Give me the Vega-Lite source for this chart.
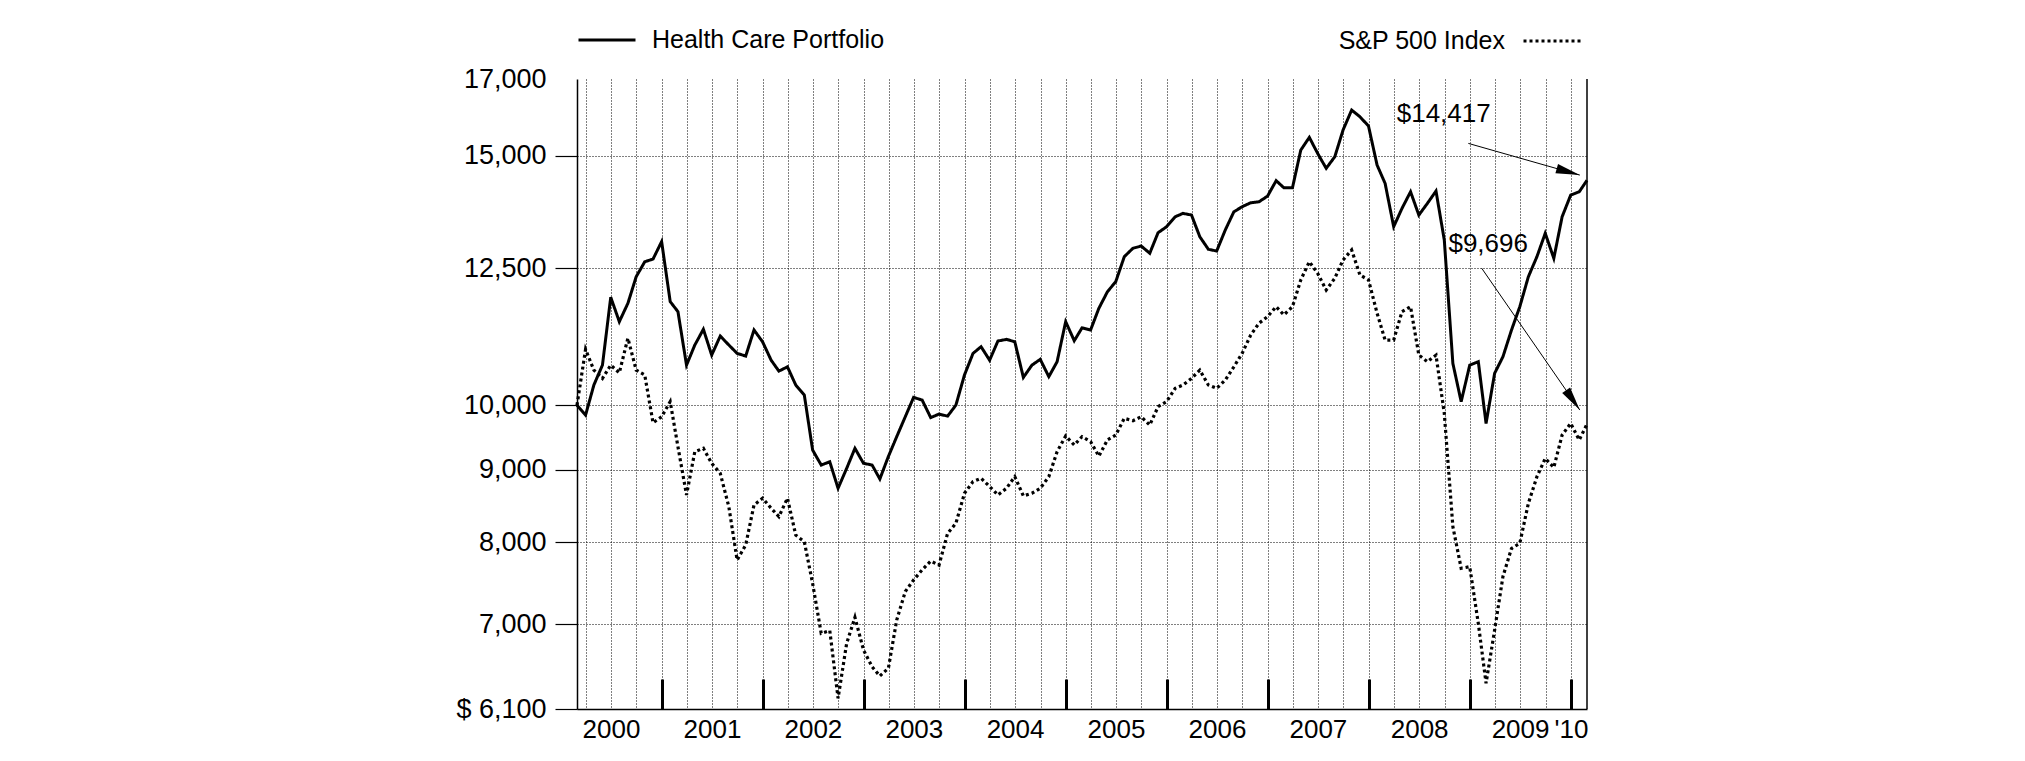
{
  "$schema": "https://vega.github.io/schema/vega-lite/v6.json",
  "width": 1010,
  "height": 630,
  "autosize": {"type": "none"},
  "padding": {"left": 577, "top": 79, "right": 438, "bottom": 52},
  "background": "white",
  "config": {
    "font": "Liberation Sans",
    "view": {"stroke": null},
    "axis": {"labelFont": "Liberation Sans"},
    "legend": {"labelFont": "Liberation Sans"}
  },
  "resolve": {"scale": {"strokeDash": "independent"}, "legend": {"strokeDash": "independent"}},
  "datasets": {
    "perf": [
      {"date": "2000-02-29", "Health Care Portfolio": 10000, "S&P 500 Index": 10000},
      {"date": "2000-03-31", "Health Care Portfolio": 9840, "S&P 500 Index": 10950},
      {"date": "2000-04-30", "Health Care Portfolio": 10333, "S&P 500 Index": 10587},
      {"date": "2000-05-31", "Health Care Portfolio": 10673, "S&P 500 Index": 10445},
      {"date": "2000-06-30", "Health Care Portfolio": 11920, "S&P 500 Index": 10673},
      {"date": "2000-07-31", "Health Care Portfolio": 11455, "S&P 500 Index": 10541},
      {"date": "2000-08-31", "Health Care Portfolio": 11802, "S&P 500 Index": 11150},
      {"date": "2000-09-30", "Health Care Portfolio": 12324, "S&P 500 Index": 10587},
      {"date": "2000-10-31", "Health Care Portfolio": 12628, "S&P 500 Index": 10503},
      {"date": "2000-11-30", "Health Care Portfolio": 12684, "S&P 500 Index": 9718},
      {"date": "2000-12-31", "Health Care Portfolio": 13048, "S&P 500 Index": 9813},
      {"date": "2001-01-31", "Health Care Portfolio": 11835, "S&P 500 Index": 10058},
      {"date": "2001-02-28", "Health Care Portfolio": 11643, "S&P 500 Index": 9346},
      {"date": "2001-03-31", "Health Care Portfolio": 10673, "S&P 500 Index": 8641},
      {"date": "2001-04-30", "Health Care Portfolio": 11028, "S&P 500 Index": 9271},
      {"date": "2001-05-31", "Health Care Portfolio": 11314, "S&P 500 Index": 9322},
      {"date": "2001-06-30", "Health Care Portfolio": 10849, "S&P 500 Index": 9097},
      {"date": "2001-07-31", "Health Care Portfolio": 11190, "S&P 500 Index": 8950},
      {"date": "2001-08-31", "Health Care Portfolio": 11028, "S&P 500 Index": 8477},
      {"date": "2001-09-30", "Health Care Portfolio": 10879, "S&P 500 Index": 7773},
      {"date": "2001-10-31", "Health Care Portfolio": 10832, "S&P 500 Index": 7965},
      {"date": "2001-11-30", "Health Care Portfolio": 11301, "S&P 500 Index": 8501},
      {"date": "2001-12-31", "Health Care Portfolio": 11086, "S&P 500 Index": 8595},
      {"date": "2002-01-31", "Health Care Portfolio": 10759, "S&P 500 Index": 8456},
      {"date": "2002-02-28", "Health Care Portfolio": 10570, "S&P 500 Index": 8342},
      {"date": "2002-03-31", "Health Care Portfolio": 10643, "S&P 500 Index": 8595},
      {"date": "2002-04-30", "Health Care Portfolio": 10333, "S&P 500 Index": 8094},
      {"date": "2002-05-31", "Health Care Portfolio": 10165, "S&P 500 Index": 8007},
      {"date": "2002-06-30", "Health Care Portfolio": 9296, "S&P 500 Index": 7482},
      {"date": "2002-07-31", "Health Care Portfolio": 9072, "S&P 500 Index": 6899},
      {"date": "2002-08-31", "Health Care Portfolio": 9120, "S&P 500 Index": 6930},
      {"date": "2002-09-30", "Health Care Portfolio": 8735, "S&P 500 Index": 6207},
      {"date": "2002-10-31", "Health Care Portfolio": 9022, "S&P 500 Index": 6787},
      {"date": "2002-11-30", "Health Care Portfolio": 9322, "S&P 500 Index": 7081},
      {"date": "2002-12-31", "Health Care Portfolio": 9097, "S&P 500 Index": 6714},
      {"date": "2003-01-31", "Health Care Portfolio": 9072, "S&P 500 Index": 6534},
      {"date": "2003-02-28", "Health Care Portfolio": 8868, "S&P 500 Index": 6436},
      {"date": "2003-03-31", "Health Care Portfolio": 9200, "S&P 500 Index": 6520},
      {"date": "2003-04-30", "Health Care Portfolio": 9500, "S&P 500 Index": 7050},
      {"date": "2003-05-31", "Health Care Portfolio": 9813, "S&P 500 Index": 7384},
      {"date": "2003-06-30", "Health Care Portfolio": 10127, "S&P 500 Index": 7525},
      {"date": "2003-07-31", "Health Care Portfolio": 10083, "S&P 500 Index": 7649},
      {"date": "2003-08-31", "Health Care Portfolio": 9800, "S&P 500 Index": 7760},
      {"date": "2003-09-30", "Health Care Portfolio": 9856, "S&P 500 Index": 7709},
      {"date": "2003-10-31", "Health Care Portfolio": 9823, "S&P 500 Index": 8117},
      {"date": "2003-11-30", "Health Care Portfolio": 10000, "S&P 500 Index": 8251},
      {"date": "2003-12-31", "Health Care Portfolio": 10503, "S&P 500 Index": 8665},
      {"date": "2004-01-31", "Health Care Portfolio": 10879, "S&P 500 Index": 8830},
      {"date": "2004-02-29", "Health Care Portfolio": 10998, "S&P 500 Index": 8879},
      {"date": "2004-03-31", "Health Care Portfolio": 10759, "S&P 500 Index": 8760},
      {"date": "2004-04-30", "Health Care Portfolio": 11100, "S&P 500 Index": 8641},
      {"date": "2004-05-31", "Health Care Portfolio": 11130, "S&P 500 Index": 8735},
      {"date": "2004-06-30", "Health Care Portfolio": 11086, "S&P 500 Index": 8902},
      {"date": "2004-07-31", "Health Care Portfolio": 10462, "S&P 500 Index": 8627},
      {"date": "2004-08-31", "Health Care Portfolio": 10673, "S&P 500 Index": 8665},
      {"date": "2004-09-30", "Health Care Portfolio": 10774, "S&P 500 Index": 8735},
      {"date": "2004-10-31", "Health Care Portfolio": 10475, "S&P 500 Index": 8902},
      {"date": "2004-11-30", "Health Care Portfolio": 10733, "S&P 500 Index": 9271},
      {"date": "2004-12-31", "Health Care Portfolio": 11455, "S&P 500 Index": 9511},
      {"date": "2005-01-31", "Health Care Portfolio": 11105, "S&P 500 Index": 9372},
      {"date": "2005-02-28", "Health Care Portfolio": 11340, "S&P 500 Index": 9500},
      {"date": "2005-03-31", "Health Care Portfolio": 11300, "S&P 500 Index": 9424},
      {"date": "2005-04-30", "Health Care Portfolio": 11707, "S&P 500 Index": 9204},
      {"date": "2005-05-31", "Health Care Portfolio": 12027, "S&P 500 Index": 9450},
      {"date": "2005-06-30", "Health Care Portfolio": 12225, "S&P 500 Index": 9526},
      {"date": "2005-07-31", "Health Care Portfolio": 12733, "S&P 500 Index": 9788},
      {"date": "2005-08-31", "Health Care Portfolio": 12907, "S&P 500 Index": 9750},
      {"date": "2005-09-30", "Health Care Portfolio": 12955, "S&P 500 Index": 9813},
      {"date": "2005-10-31", "Health Care Portfolio": 12804, "S&P 500 Index": 9681},
      {"date": "2005-11-30", "Health Care Portfolio": 13238, "S&P 500 Index": 9975},
      {"date": "2005-12-31", "Health Care Portfolio": 13369, "S&P 500 Index": 10058},
      {"date": "2006-01-31", "Health Care Portfolio": 13586, "S&P 500 Index": 10278},
      {"date": "2006-02-28", "Health Care Portfolio": 13662, "S&P 500 Index": 10333},
      {"date": "2006-03-31", "Health Care Portfolio": 13624, "S&P 500 Index": 10445},
      {"date": "2006-04-30", "Health Care Portfolio": 13152, "S&P 500 Index": 10587},
      {"date": "2006-05-31", "Health Care Portfolio": 12886, "S&P 500 Index": 10333},
      {"date": "2006-06-30", "Health Care Portfolio": 12850, "S&P 500 Index": 10278},
      {"date": "2006-07-31", "Health Care Portfolio": 13296, "S&P 500 Index": 10416},
      {"date": "2006-08-31", "Health Care Portfolio": 13696, "S&P 500 Index": 10643},
      {"date": "2006-09-30", "Health Care Portfolio": 13810, "S&P 500 Index": 10879},
      {"date": "2006-10-31", "Health Care Portfolio": 13900, "S&P 500 Index": 11208},
      {"date": "2006-11-30", "Health Care Portfolio": 13922, "S&P 500 Index": 11426},
      {"date": "2006-12-31", "Health Care Portfolio": 14051, "S&P 500 Index": 11550},
      {"date": "2007-01-31", "Health Care Portfolio": 14408, "S&P 500 Index": 11737},
      {"date": "2007-02-28", "Health Care Portfolio": 14243, "S&P 500 Index": 11582},
      {"date": "2007-03-31", "Health Care Portfolio": 14243, "S&P 500 Index": 11737},
      {"date": "2007-04-30", "Health Care Portfolio": 15142, "S&P 500 Index": 12259},
      {"date": "2007-05-31", "Health Care Portfolio": 15460, "S&P 500 Index": 12628},
      {"date": "2007-06-30", "Health Care Portfolio": 15063, "S&P 500 Index": 12393},
      {"date": "2007-07-31", "Health Care Portfolio": 14700, "S&P 500 Index": 12060},
      {"date": "2007-08-31", "Health Care Portfolio": 14980, "S&P 500 Index": 12293},
      {"date": "2007-09-30", "Health Care Portfolio": 15646, "S&P 500 Index": 12664},
      {"date": "2007-10-31", "Health Care Portfolio": 16162, "S&P 500 Index": 12872},
      {"date": "2007-11-30", "Health Care Portfolio": 15988, "S&P 500 Index": 12359},
      {"date": "2007-12-31", "Health Care Portfolio": 15746, "S&P 500 Index": 12259},
      {"date": "2008-01-31", "Health Care Portfolio": 14778, "S&P 500 Index": 11614},
      {"date": "2008-02-29", "Health Care Portfolio": 14345, "S&P 500 Index": 11117},
      {"date": "2008-03-31", "Health Care Portfolio": 13369, "S&P 500 Index": 11117},
      {"date": "2008-04-30", "Health Care Portfolio": 13772, "S&P 500 Index": 11643},
      {"date": "2008-05-31", "Health Care Portfolio": 14151, "S&P 500 Index": 11737},
      {"date": "2008-06-30", "Health Care Portfolio": 13624, "S&P 500 Index": 10849},
      {"date": "2008-07-31", "Health Care Portfolio": 13887, "S&P 500 Index": 10733},
      {"date": "2008-08-31", "Health Care Portfolio": 14167, "S&P 500 Index": 10849},
      {"date": "2008-09-30", "Health Care Portfolio": 13083, "S&P 500 Index": 9867},
      {"date": "2008-10-31", "Health Care Portfolio": 10703, "S&P 500 Index": 8207},
      {"date": "2008-11-30", "Health Care Portfolio": 10058, "S&P 500 Index": 7669},
      {"date": "2008-12-31", "Health Care Portfolio": 10673, "S&P 500 Index": 7689},
      {"date": "2009-01-31", "Health Care Portfolio": 10733, "S&P 500 Index": 7011},
      {"date": "2009-02-28", "Health Care Portfolio": 9707, "S&P 500 Index": 6361},
      {"date": "2009-03-31", "Health Care Portfolio": 10532, "S&P 500 Index": 6936},
      {"date": "2009-04-30", "Health Care Portfolio": 10819, "S&P 500 Index": 7566},
      {"date": "2009-05-31", "Health Care Portfolio": 11300, "S&P 500 Index": 7921},
      {"date": "2009-06-30", "Health Care Portfolio": 11737, "S&P 500 Index": 7987},
      {"date": "2009-07-31", "Health Care Portfolio": 12324, "S&P 500 Index": 8524},
      {"date": "2009-08-31", "Health Care Portfolio": 12733, "S&P 500 Index": 8902},
      {"date": "2009-09-30", "Health Care Portfolio": 13226, "S&P 500 Index": 9170},
      {"date": "2009-10-31", "Health Care Portfolio": 12698, "S&P 500 Index": 9036},
      {"date": "2009-11-30", "Health Care Portfolio": 13586, "S&P 500 Index": 9526},
      {"date": "2009-12-31", "Health Care Portfolio": 14074, "S&P 500 Index": 9707},
      {"date": "2010-01-31", "Health Care Portfolio": 14151, "S&P 500 Index": 9450},
      {"date": "2010-02-28", "Health Care Portfolio": 14417, "S&P 500 Index": 9696}
    ],
    "notes": [
      {"label": "$14,417", "textDate": "2008-04-11", "textValue": 16059, "fromDate": "2008-12-26", "fromValue": 15309, "toDate": "2010-02-02", "toValue": 14539},
      {"label": "$9,696", "textDate": "2008-10-15", "textValue": 12999, "fromDate": "2009-02-12", "fromValue": 12497, "toDate": "2010-02-02", "toValue": 9921}
    ]
  },
  "layer": [
    {
      "data": {"name": "perf"},
      "transform": [
        {"fold": ["Health Care Portfolio", "S&P 500 Index"], "as": ["series", "value"]},
        {"filter": "datum.series == 'Health Care Portfolio'"}
      ],
      "mark": {"type": "line", "color": "#000", "strokeWidth": 3, "strokeCap": "butt"},
      "encoding": {
        "x": {
          "field": "date", "type": "temporal",
          "scale": {"type": "utc", "nice": false, "domain": [{"year": 2000, "month": 2, "date": 29, "utc": true}, {"year": 2010, "month": 2, "date": 28, "utc": true}]},
          "axis": {
            "title": null,
            "tickCount": 200,
            "values": [954547200000, 962409600000, 970358400000, 978307200000, 986083200000, 993945600000, 1001894400000, 1009843200000, 1017619200000, 1025481600000, 1033430400000, 1041379200000, 1049155200000, 1057017600000, 1064966400000, 1072915200000, 1080777600000, 1088640000000, 1096588800000, 1104537600000, 1112313600000, 1120176000000, 1128124800000, 1136073600000, 1143849600000, 1151712000000, 1159660800000, 1167609600000, 1175385600000, 1183248000000, 1191196800000, 1199145600000, 1207008000000, 1214870400000, 1222819200000, 1230768000000, 1238544000000, 1246406400000, 1254355200000, 1262304000000],
            "grid": true, "gridDash": [1, 2], "gridColor": "#000", "gridWidth": 1,
            "domainColor": "#000", "domainWidth": 1.5,
            "ticks": true, "tickSize": -30, "tickWidth": 3,
            "tickColor": {"condition": {"test": "utcmonth(datum.value) == 0", "value": "#000"}, "value": "transparent"},
            "labelExpr": "utcmonth(datum.value) == 6 ? utcFormat(datum.value, '%Y') : ((utcmonth(datum.value) == 0 && utcyear(datum.value) == 2010) ? \"'10\" : '')",
            "labelPadding": 37, "labelFontSize": 26, "labelColor": "#000",
            "labelOverlap": false, "labelFlush": false, "labelBound": false, "labelAlign": "center"
          }
        },
        "y": {
          "field": "value", "type": "quantitative",
          "scale": {"type": "log", "nice": false, "zero": false, "domain": [6100, 17000]},
          "axis": {
            "title": null,
            "tickCount": 50,
            "values": [6100, 7000, 8000, 9000, 10000, 12500, 15000, 17000],
            "labelExpr": "datum.value == 6100 ? '$ 6,100' : format(datum.value, ',')",
            "grid": true, "gridDash": [1, 2], "gridWidth": 1,
            "gridColor": {"condition": {"test": "datum.value >= 17000 || datum.value <= 6100", "value": "transparent"}, "value": "#000"},
            "tickSize": 22, "tickWidth": 1.2,
            "tickColor": {"condition": {"test": "datum.value >= 17000", "value": "transparent"}, "value": "#000"},
            "domainColor": "#000", "domainWidth": 1.5,
            "labelFontSize": 27, "labelPadding": 9, "labelColor": "#000",
            "labelOverlap": false, "labelFlush": false
          }
        },
        "strokeDash": {
          "field": "series", "type": "nominal",
          "scale": {"domain": ["Health Care Portfolio"], "range": [[1, 0]]},
          "legend": {
            "title": null, "orient": "none", "legendX": 0, "legendY": -69,
            "symbolType": "stroke", "symbolSize": 3249,
            "symbolStrokeWidth": 3, "symbolStrokeColor": "#000",
            "labelFontSize": 25, "labelColor": "#000", "labelOffset": 15,
            "labelLimit": 500, "padding": 0
          }
        }
      }
    },
    {
      "data": {"name": "perf"},
      "transform": [
        {"fold": ["Health Care Portfolio", "S&P 500 Index"], "as": ["series", "value"]},
        {"filter": "datum.series == 'S&P 500 Index'"}
      ],
      "mark": {"type": "line", "color": "#000", "strokeWidth": 3.2, "strokeCap": "butt"},
      "encoding": {
        "x": {"field": "date", "type": "temporal", "scale": {"type": "utc"}},
        "y": {"field": "value", "type": "quantitative", "scale": {"type": "log"}},
        "strokeDash": {
          "field": "series", "type": "nominal",
          "scale": {"domain": ["S&P 500 Index"], "range": [[3, 3]]},
          "legend": {
            "title": null, "orient": "none", "legendX": 944.5, "legendY": -70,
            "symbolType": "stroke", "symbolSize": 3600,
            "symbolStrokeWidth": 3.2, "symbolStrokeColor": "#000",
            "labelFontSize": 25, "labelColor": "#000", "labelOffset": -80.5, "labelAlign": "right",
            "labelLimit": 500, "padding": 0
          }
        }
      }
    },
    {
      "data": {"values": [{}]},
      "mark": {"type": "rule", "color": "#000", "strokeWidth": 1.5},
      "encoding": {
        "x": {"datum": {"year": 2010, "month": 2, "date": 28, "utc": true}, "type": "temporal", "scale": {"type": "utc"}}
      }
    },
    {
      "data": {"name": "notes"},
      "mark": {"type": "rule", "color": "#000", "strokeWidth": 1},
      "encoding": {
        "x": {"field": "fromDate", "type": "temporal", "scale": {"type": "utc"}},
        "y": {"field": "fromValue", "type": "quantitative", "scale": {"type": "log"}},
        "x2": {"field": "toDate"},
        "y2": {"field": "toValue"}
      }
    },
    {
      "data": {"name": "notes"},
      "transform": [{"filter": "datum.label == '$14,417'"}],
      "mark": {"type": "point", "shape": "M 0 0 L -2 -0.4 L -2 0.4 Z", "filled": true, "color": "#000", "opacity": 1, "size": 576, "angle": 15.85, "strokeWidth": 0},
      "encoding": {
        "x": {"field": "toDate", "type": "temporal", "scale": {"type": "utc"}},
        "y": {"field": "toValue", "type": "quantitative", "scale": {"type": "log"}}
      }
    },
    {
      "data": {"name": "notes"},
      "transform": [{"filter": "datum.label == '$9,696'"}],
      "mark": {"type": "point", "shape": "M 0 0 L -2 -0.4 L -2 0.4 Z", "filled": true, "color": "#000", "opacity": 1, "size": 576, "angle": 55.25, "strokeWidth": 0},
      "encoding": {
        "x": {"field": "toDate", "type": "temporal", "scale": {"type": "utc"}},
        "y": {"field": "toValue", "type": "quantitative", "scale": {"type": "log"}}
      }
    },
    {
      "data": {"name": "notes"},
      "mark": {"type": "text", "align": "left", "baseline": "middle", "fontSize": 26, "color": "#000"},
      "encoding": {
        "x": {"field": "textDate", "type": "temporal", "scale": {"type": "utc"}},
        "y": {"field": "textValue", "type": "quantitative", "scale": {"type": "log"}},
        "text": {"field": "label"}
      }
    }
  ]
}
